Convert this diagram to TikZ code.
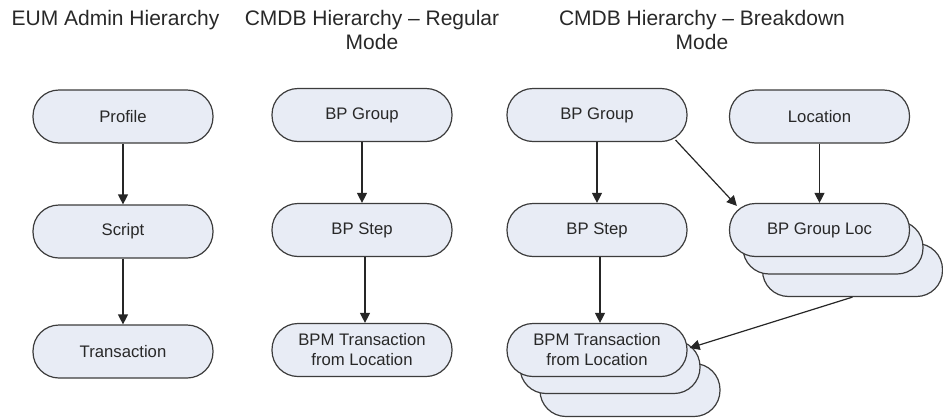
\documentclass[tikz,border=0pt]{standalone}
\usepackage{fontspec}
\setmainfont{Liberation Sans}
\usetikzlibrary{arrows.meta,calc}
\definecolor{boxfill}{RGB}{232,236,245}
\definecolor{boxline}{RGB}{60,60,60}
\definecolor{txt}{RGB}{40,40,40}
\tikzset{
  pill/.style={draw=boxline, line width=1.2pt, fill=boxfill, rounded corners=26pt,
    minimum width=180pt, minimum height=53pt, inner sep=0pt, align=center,
    text=txt, font=\fontsize{16.7}{20}\selectfont},
  ghost/.style={pill},
  title/.style={anchor=north, inner sep=0pt, align=center, text=txt,
    font=\fontsize{21}{24.5}\selectfont},
  arr/.style={draw=black!85, line width=1.2pt, -{Triangle[length=10pt,width=10pt]}}
}
\begin{document}
\begin{tikzpicture}[x=1pt,y=-1pt]
\useasboundingbox (0,0) rectangle (943,418);

% titles
\node[title] (t1) at (115.5,10) {EUM Admin Hierarchy};
\node[title] (t2) at (372,10) {CMDB Hierarchy -- Regular\\Mode};
\node[title] (t3) at (702,10) {CMDB Hierarchy -- Breakdown\\Mode};

% column 1
\node[pill] (prof) at (123,116.5) {Profile};
\node[pill] (scr) at (123,231.5) {Script};
\node[pill] (trn) at (123,351.5) {Transaction};
\draw[arr] (prof) -- (scr);
\draw[arr] (scr) -- (trn);

% column 2
\node[pill] (rg) at (362,115) {BP Group};
\node[pill] (rs) at (362,230) {BP Step};
\node[pill] (rt) at (362,350) {BPM Transaction\\from Location};
\draw[arr] (rg) -- (rs);
\draw[arr] ([xshift=3pt]rs.south) -- ([xshift=3pt]rt.north);

% column 3
\node[pill] (bg) at (597,115) {BP Group};
\node[pill] (loc) at (819.5,116.5) {Location};
\node[pill] (bs) at (597,230) {BP Step};

\node[ghost] (gl3) at (852.5,270) {};
\node[ghost] (gl2) at (833,247.5) {};
\node[pill] (gl) at (819.5,230) {BP Group Loc};

\node[ghost] (tr3) at (630,390) {};
\node[ghost] (tr2) at (610,367) {};
\node[pill] (tr) at (597,350) {BPM Transaction\\from Location};

\draw[arr] (bg) -- (bs);
\draw[arr] (loc) -- (gl);
\draw[arr] ([xshift=3pt]bs.south) -- ([xshift=3pt]tr.north);
\draw[arr] ($(bg.south east)+(-12,-2)$) -- ($(gl.north west)+(8,3)$);
\draw[arr] (gl3.south) -- ($(tr.east)+(2,-2)$);
\end{tikzpicture}
\end{document}
